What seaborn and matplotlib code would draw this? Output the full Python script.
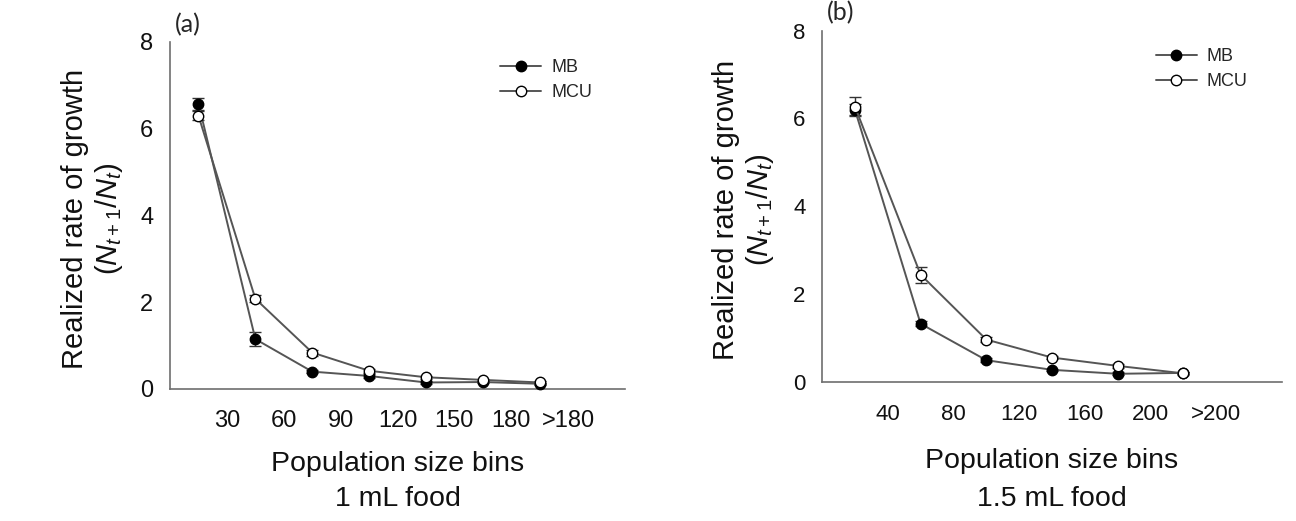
import numpy as np
import pandas as pd
import matplotlib
matplotlib.use("Agg")
import matplotlib.pyplot as plt
import seaborn as sns

sns.set_theme(style="white")
plt.rcParams["font.family"] = ["Liberation Sans", "DejaVu Sans"]
plt.rcParams["mathtext.fontset"] = "custom"
plt.rcParams["mathtext.rm"] = "Liberation Sans"
plt.rcParams["mathtext.it"] = "Liberation Sans:italic"

LINE = "#555555"
AXIS = "#6e6e6e"

# panel (a): 1 mL food
bins_a = [15, 45, 75, 105, 135, 165, 195]
ticks_a = [30, 60, 90, 120, 150, 180, 210]
ticklabels_a = ["30", "60", "90", "120", "150", "180", ">180"]
mb_a = [6.58, 1.15, 0.40, 0.30, 0.15, 0.16, 0.12]
mb_a_err = [0.14, 0.17, 0.04, 0.04, 0.03, 0.03, 0.02]
mcu_a = [6.30, 2.08, 0.84, 0.42, 0.27, 0.21, 0.15]
mcu_a_err = [0.10, 0.08, 0.07, 0.05, 0.03, 0.03, 0.03]

# panel (b): 1.5 mL food
bins_b = [20, 60, 100, 140, 180, 220]
ticks_b = [40, 80, 120, 160, 200, 240]
ticklabels_b = ["40", "80", "120", "160", "200", ">200"]
mb_b = [6.20, 1.32, 0.49, 0.27, 0.18, 0.20]
mb_b_err = [0.12, 0.06, 0.04, 0.03, 0.03, 0.03]
mcu_b = [6.27, 2.44, 0.96, 0.55, 0.36, 0.19]
mcu_b_err = [0.21, 0.18, 0.05, 0.04, 0.04, 0.03]


def draw_panel(ax, bins, mb, mb_err, mcu, mcu_err, ticks, ticklabels, xmax,
               tag, food, tick_fs, pad_x, xlab_y, xlab_space, leg_y):
    df = pd.DataFrame({
        "bin": bins * 2,
        "rate": mb + mcu,
        "err": mb_err + mcu_err,
        "strain": ["MB"] * len(bins) + ["MCU"] * len(bins),
    })
    styles = {"MB": "black", "MCU": "white"}
    for strain, face in styles.items():
        sub = df[df.strain == strain]
        ax.errorbar(sub["bin"], sub["rate"], yerr=sub["err"], fmt="none",
                    ecolor="#333333", elinewidth=1.0, capsize=4, capthick=1.0,
                    zorder=3, clip_on=False)
        sns.lineplot(data=sub, x="bin", y="rate", ax=ax, color=LINE,
                     linewidth=1.4, marker="o", markersize=7.5,
                     markerfacecolor=face, markeredgecolor="black",
                     markeredgewidth=1.0, label=strain, errorbar=None,
                     zorder=4, clip_on=False)

    ax.set_xlim(0, xmax)
    ax.set_ylim(0, 8)
    ax.set_xticks(ticks)
    ax.set_xticklabels(ticklabels)
    ax.set_yticks([0, 2, 4, 6, 8])
    ax.set_yticklabels(["0", "2", "4", "6", "8"])
    sns.despine(ax=ax)
    for side in ["left", "bottom"]:
        ax.spines[side].set_color(AXIS)
        ax.spines[side].set_linewidth(1.2)
    ax.tick_params(axis="both", direction="out", length=4, width=1,
                   color=AXIS, labelsize=tick_fs, labelcolor="#111111")
    ax.tick_params(axis="y", pad=8)
    ax.tick_params(axis="x", length=5, pad=pad_x)

    ax.set_ylabel("Realized rate of growth\n($N_{t+1}/N_t$)", fontsize=21,
                  linespacing=1.15, color="#111111")
    ax.yaxis.set_label_coords(-0.10, 0.49)
    ax.set_xlabel("Population size bins\n" + food, fontsize=20.5,
                  linespacing=xlab_space, color="#111111")
    ax.xaxis.set_label_coords(0.5, xlab_y)

    ax.text(0.04, 1.05, tag, transform=ax.transAxes, fontsize=18,
            family=["Lato", "DejaVu Sans"], ha="center", va="center")

    ax.legend(loc="upper left", bbox_to_anchor=(0.725, leg_y), frameon=False,
              fontsize=13, handlelength=2.3, handletextpad=0.55,
              labelspacing=0.45, borderpad=0, borderaxespad=0)


fig = plt.figure(figsize=(12.96, 5.21), dpi=100)
ax_a = fig.add_axes([0.1312, 0.2534, 0.3511, 0.666])
ax_b = fig.add_axes([0.6343, 0.2674, 0.3549, 0.6737])

draw_panel(ax_a, bins_a, mb_a, mb_a_err, mcu_a, mcu_a_err, ticks_a,
           ticklabels_a, 240, "(a)", "1 mL food", 17, 10, -0.18, 1.45, 0.95)
draw_panel(ax_b, bins_b, mb_b, mb_b_err, mcu_b, mcu_b_err, ticks_b,
           ticklabels_b, 280, "(b)", "1.5 mL food", 16, 11, -0.19, 1.6, 0.95)

fig.savefig("out.png", dpi=100, facecolor="white")
